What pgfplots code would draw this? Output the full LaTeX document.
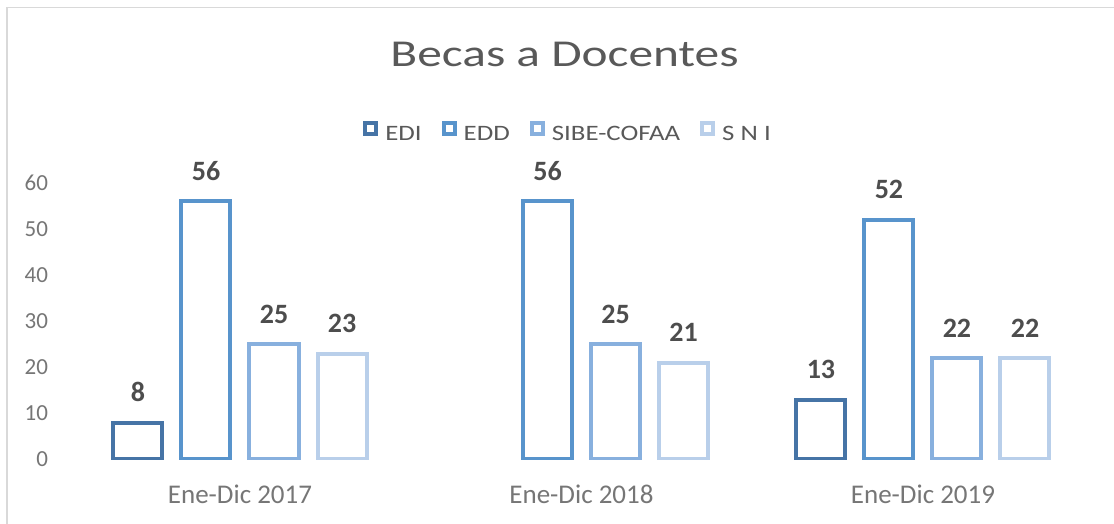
\documentclass[border=0pt]{standalone}
\usepackage{pgfplots}
\pgfplotsset{compat=1.18}
\usepackage{fontspec}
\setmainfont{Carlito}
\definecolor{cEDI}{HTML}{4674A6}
\definecolor{cEDD}{HTML}{5894CC}
\definecolor{cSIBE}{HTML}{88B0DE}
\definecolor{cSNI}{HTML}{B9CFEA}
\definecolor{framegray}{HTML}{D9D9D9}
\definecolor{txtgray}{HTML}{595959}
\definecolor{tickgray}{HTML}{767676}
\definecolor{lblgray}{HTML}{4D4D4D}
\newcommand{\wide}[1]{\scalebox{1.3}[1]{#1}}
\newcommand{\lwide}[1]{\scalebox{1.22}[1]{#1}}
\begin{document}
\begin{tikzpicture}
\useasboundingbox (0,0) rectangle (1114bp,524bp);
\draw[color=framegray, line width=1.5bp] (7bp,0) -- (7bp,516.5bp) -- (1113.5bp,516.5bp);
\begin{axis}[
  at={(69.25bp,64.5bp)}, anchor=south west,
  scale only axis, width=1024.5bp, height=276.5bp,
  xmin=-0.5, xmax=2.5, ymin=0, ymax=60,
  ybar, bar width=49bp,
  axis line style={draw=none}, tick style={draw=none},
  major tick length=0pt,
  xtick={0,1,2}, xticklabels={Ene-Dic 2017, Ene-Dic 2018, Ene-Dic 2019},
  ytick={0,10,...,60},
  /pgf/number format/assume math mode=true,
  xticklabel style={anchor=base, inner sep=0pt, yshift=-44bp, text=tickgray, font=\fontsize{27bp}{27bp}\selectfont},
  yticklabel style={anchor=east, inner sep=0pt, xshift=-21bp, text=tickgray, font=\fontsize{23bp}{23bp}\selectfont},
  nodes near coords,
  every node near coord/.append style={anchor=base, inner sep=0pt, yshift=21bp, text=lblgray, font=\bfseries\fontsize{28bp}{28bp}\selectfont},
  legend columns=4,
  legend image code/.code={\draw[#1, line width=4bp, fill=white] (2bp,0bp) rectangle (13bp,11bp); \path (20bp,0bp);},
  legend style={draw=none, fill=none, at={(0.4859,1.187)}, anchor=center,
    font=\fontsize{22bp}{22bp}\selectfont, text=txtgray,
    nodes={inner sep=0pt},
    /tikz/every even column/.append style={column sep=20bp}},
]
\addplot[draw=cEDI, fill=white, line width=4bp, bar shift=-102bp] coordinates {(0,8) (2,13)};
\addplot[draw=cEDD, fill=white, line width=4bp, bar shift=-34bp] coordinates {(0,56) (1,56) (2,52)};
\addplot[draw=cSIBE, fill=white, line width=4bp, bar shift=34bp] coordinates {(0,25) (1,25) (2,22)};
\addplot[draw=cSNI, fill=white, line width=4bp, bar shift=102bp] coordinates {(0,23) (1,21) (2,22)};
\legend{\lwide{EDI}, \lwide{EDD}, \lwide{SIBE-COFAA}, \lwide{S N I}}
\end{axis}
\node[anchor=base, inner sep=0pt, text=txtgray, font=\fontsize{38bp}{38bp}\selectfont] at (564.5bp,457.3bp) {\wide{Becas a Docentes}};
\end{tikzpicture}
\end{document}
